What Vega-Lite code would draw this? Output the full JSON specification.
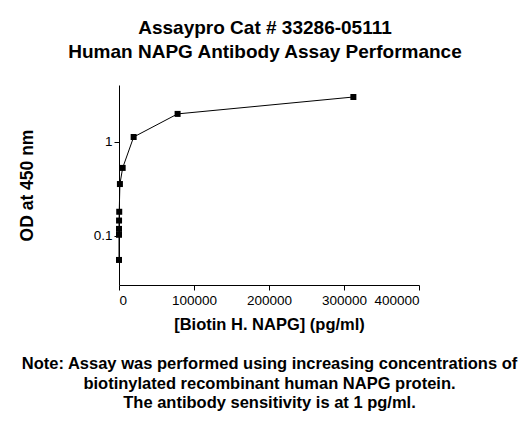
{
  "$schema": "https://vega.github.io/schema/vega-lite/v6.json",
  "width": 300,
  "height": 200,
  "autosize": "none",
  "padding": {"left": 119, "top": 85, "right": 111, "bottom": 140},
  "background": "white",
  "config": {
    "font": "Liberation Sans",
    "view": {"stroke": null},
    "axis": {"grid": false, "domainColor": "black", "tickColor": "black", "labelColor": "black", "titleColor": "black", "labelFont": "Liberation Sans", "titleFont": "Liberation Sans", "labelFontSize": 13.5, "titleFontSize": 16.5, "titleFontWeight": "bold", "tickSize": 5}
  },
  "title": {
    "text": ["Assaypro Cat # 33286-05111", "Human NAPG Antibody Assay Performance"],
    "font": "Liberation Sans",
    "fontSize": 19,
    "fontWeight": "bold",
    "color": "black",
    "anchor": "middle",
    "lineHeight": 24,
    "offset": 23,
    "dx": -4
  },
  "data": {
    "values": [
      {"conc": 312500, "od": 3.01},
      {"conc": 78125, "od": 1.99},
      {"conc": 19531, "od": 1.13},
      {"conc": 4883, "od": 0.53},
      {"conc": 1221, "od": 0.357},
      {"conc": 305, "od": 0.181},
      {"conc": 76, "od": 0.146},
      {"conc": 19, "od": 0.119},
      {"conc": 4.8, "od": 0.103},
      {"conc": 0, "od": 0.0556}
    ]
  },
  "encoding": {
    "x": {
      "field": "conc",
      "type": "quantitative",
      "scale": {"domain": [0, 400000], "nice": false},
      "axis": {
        "values": [0, 100000, 200000, 300000, 400000],
        "format": "d",
        "labelPadding": 3,
        "titleLineHeight": 19.5,
        "titlePadding": 10,
        "title": ["[Biotin H. NAPG] (pg/ml)", "\u2800", "Note: Assay was performed using increasing concentrations of", "biotinylated recombinant human NAPG protein.", "The antibody sensitivity is at 1 pg/ml."]
      }
    },
    "y": {
      "field": "od",
      "type": "quantitative",
      "scale": {"type": "log", "domain": [0.0301, 4.04], "nice": false},
      "axis": {"values": [0.1, 1], "format": "~g", "title": "OD at 450 nm", "titleFontSize": 17.5, "titlePadding": 57}
    }
  },
  "layer": [
    {"mark": {"type": "line", "color": "black", "strokeWidth": 1}, "encoding": {"order": {"field": "conc", "type": "quantitative"}}},
    {"mark": {"type": "square", "color": "black", "filled": true, "opacity": 1, "size": 36}}
  ]
}
